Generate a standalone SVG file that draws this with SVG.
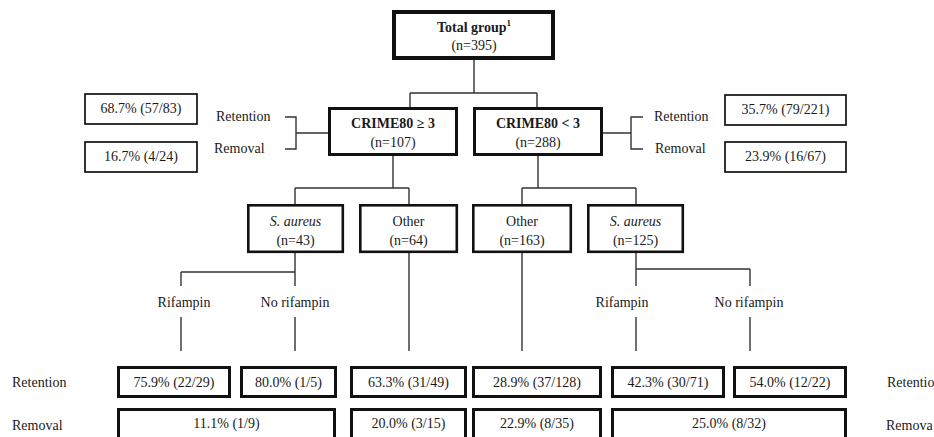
<svg xmlns="http://www.w3.org/2000/svg" width="934" height="437" viewBox="0 0 934 437">
<style>
text{font-family:'Liberation Serif','DejaVu Serif',serif;font-size:14px;fill:#1a1a1a}
.c{text-anchor:middle}
.b{font-weight:bold}
.i{font-style:italic}
rect{fill:#fff;stroke:#111}
.t0{stroke-width:4}
.t1{stroke-width:3}
.t2{stroke-width:2.6}
.t3{stroke-width:1.7}
.ln{fill:none;stroke:#333;stroke-width:1.4}
</style>
<rect x="0" y="0" width="934" height="437" style="fill:#fff;stroke:none"/>
<g id="connectors" class="ln">
<path d="M474 59V93M410 93H537M410 93V108M537 93V108"/>
<path d="M328 133H296M285 117H296V149H285"/>
<path d="M603 133H631M643 117H631V149H643"/>
<path d="M393 156V188M295 188H409M295 188V204M409 188V204"/>
<path d="M538 156V188M522 188H636M522 188V204M636 188V204"/>
<path d="M295 253V272M181 272H295M181 272V286M295 272V286"/>
<path d="M181 317V351M295 317V351M409 253V351"/>
<path d="M522 253V351M636 253V269M636 269H750M636 269V286M750 269V286M636 317V351M750 317V351"/>
</g>
<g font-family="Liberation Serif, serif">
<g id="total"><rect class="t0" x="394" y="12" width="159" height="46"/>
<text class="c b" x="474" y="32">Total group<tspan font-size="9" dy="-6">1</tspan></text>
<text class="c" x="474" y="50">(n=395)</text></g>
<g id="crime-high"><rect class="t1" x="329.5" y="108.5" width="127" height="46"/>
<text class="c b" x="393" y="128">CRIME80 ≥ 3</text>
<text class="c" x="393" y="147">(n=107)</text></g>
<g id="crime-low"><rect class="t1" x="474.5" y="108.5" width="127" height="46"/>
<text class="c b" x="538" y="128">CRIME80 &lt; 3</text>
<text class="c" x="538" y="147">(n=288)</text></g>
<g id="high-labels"><text x="216" y="121">Retention</text><text x="214" y="153">Removal</text></g>
<g id="low-labels"><text x="654" y="121">Retention</text><text x="655" y="153">Removal</text></g>
<g id="high-ret"><rect class="t3" x="85" y="94" width="112" height="30"/><text class="c" x="141" y="113">68.7% (57/83)</text></g>
<g id="high-rem"><rect class="t3" x="85" y="142" width="112" height="30"/><text class="c" x="141" y="161">16.7% (4/24)</text></g>
<g id="low-ret"><rect class="t3" x="725" y="95" width="121" height="30"/><text class="c" x="785.5" y="114">35.7% (79/221)</text></g>
<g id="low-rem"><rect class="t3" x="725" y="142" width="121" height="30"/><text class="c" x="785.5" y="161">23.9% (16/67)</text></g>
<g id="sa-high"><rect class="t2" x="248.3" y="205.3" width="94.5" height="46.5"/>
<text class="c i" x="295.5" y="226">S. aureus</text><text class="c" x="295.5" y="245">(n=43)</text></g>
<g id="other-high"><rect class="t2" x="360.3" y="205.3" width="96.5" height="46.5"/>
<text class="c" x="408.5" y="226">Other</text><text class="c" x="408.5" y="245">(n=64)</text></g>
<g id="other-low"><rect class="t2" x="473.3" y="205.3" width="97.5" height="46.5"/>
<text class="c" x="522" y="226">Other</text><text class="c" x="522" y="245">(n=163)</text></g>
<g id="sa-low"><rect class="t2" x="588.3" y="205.3" width="94.5" height="46.5"/>
<text class="c i" x="635.5" y="226">S. aureus</text><text class="c" x="635.5" y="245">(n=125)</text></g>
<g id="rif-labels">
<text class="c" x="184" y="307">Rifampin</text><text class="c" x="295" y="307">No rifampin</text>
<text class="c" x="622" y="307">Rifampin</text><text class="c" x="749" y="307">No rifampin</text></g>
<g id="row-labels">
<text x="12" y="387">Retention</text><text x="12" y="430">Removal</text>
<text x="887" y="387">Retentio</text><text x="886" y="430">Remova</text></g>
<g id="ret-row">
<rect class="t1" x="118.5" y="367.5" width="111" height="29"/><text class="c" x="174" y="387">75.9% (22/29)</text>
<rect class="t1" x="241.5" y="367.5" width="94" height="29"/><text class="c" x="288.5" y="387">80.0% (1/5)</text>
<rect class="t1" x="351.5" y="367.5" width="114" height="29"/><text class="c" x="408.5" y="387">63.3% (31/49)</text>
<rect class="t1" x="473.5" y="367.5" width="127" height="29"/><text class="c" x="537" y="387">28.9% (37/128)</text>
<rect class="t1" x="612.5" y="367.5" width="111" height="29"/><text class="c" x="668" y="387">42.3% (30/71)</text>
<rect class="t1" x="734.5" y="367.5" width="111" height="29"/><text class="c" x="790" y="387">54.0% (12/22)</text>
</g>
<g id="rem-row">
<rect class="t1" x="118.5" y="409.5" width="216" height="40"/><text class="c" x="226.5" y="428">11.1% (1/9)</text>
<rect class="t1" x="351.5" y="409.5" width="114" height="40"/><text class="c" x="408.5" y="428">20.0% (3/15)</text>
<rect class="t1" x="473.5" y="409.5" width="127" height="40"/><text class="c" x="537" y="428">22.9% (8/35)</text>
<rect class="t1" x="612.5" y="409.5" width="233" height="40"/><text class="c" x="729" y="428">25.0% (8/32)</text>
</g>
</g>
</svg>
